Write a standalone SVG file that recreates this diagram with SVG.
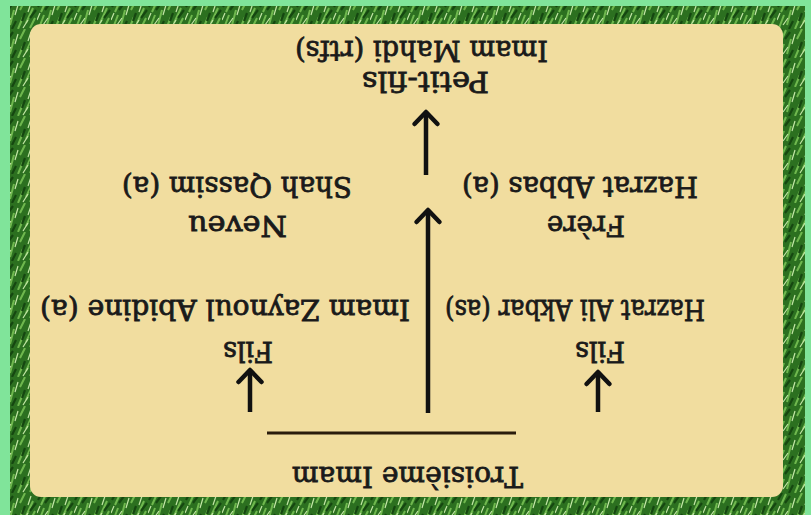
<svg xmlns="http://www.w3.org/2000/svg" width="811" height="515" viewBox="0 0 811 515">
  <style>
    .t { font-family: "DejaVu Serif", "Liberation Serif", serif; font-weight: normal; font-size: 27px; fill: #1a1a1a; stroke: #1a1a1a; stroke-width: 0.8; }
    .arrow { stroke: #111; stroke-width: 4.5; fill: none; marker-end: url(#head); }
    .rule { stroke: #2a1c0c; stroke-width: 3; fill: none; }
  </style>
  <defs>
    <pattern id="grass" patternUnits="userSpaceOnUse" width="37" height="29">
      <rect width="37" height="29" fill="#2c7020"/>
      <path d="M2,28 L7,15 M10,25 L14,10 M18,29 L23,17 M26,23 L33,8 M4,12 L9,1 M20,10 L25,0 M30,28 L35,18" stroke="#6fb84e" stroke-width="2" fill="none"/>
      <path d="M6,25 L11,18 M15,15 L18,5 M23,28 L28,20 M0,20 L3,13 M28,12 L31,3" stroke="#c3e6a6" stroke-width="1.2" fill="none"/>
      <path d="M12,29 L16,21 M1,7 L5,0 M22,21 L25,13 M30,18 L36,10 M8,10 L13,3" stroke="#154710" stroke-width="2.2" fill="none"/>
    </pattern>
    <marker id="head" markerUnits="userSpaceOnUse" viewBox="0 0 20 26" refX="17" refY="13" markerWidth="20" markerHeight="26" orient="auto" overflow="visible">
      <path d="M5,1.5 L17,13 L5,24.5" stroke="#111" stroke-width="4.5" fill="none" stroke-linecap="round" stroke-linejoin="round"/>
    </marker>
  </defs>

  <rect x="0" y="0" width="811" height="515" fill="#80e49a"/>
  <rect x="10" y="6" width="795" height="509" fill="url(#grass)"/>
  <rect x="30" y="24" width="753" height="473" rx="11" fill="#f1dd9f"/>

  <g id="connectors">
    <line class="arrow" x1="426" y1="175" x2="426" y2="112"/>
    <line class="arrow" x1="428" y1="413" x2="428" y2="210"/>
    <line class="arrow" x1="250" y1="412" x2="250" y2="370"/>
    <line class="arrow" x1="598" y1="412" x2="598" y2="372"/>
    <line class="rule" x1="267" y1="433" x2="516" y2="433"/>
  </g>

  <g id="node-troisieme-imam">
    <text class="t" x="407.5" y="467" text-anchor="middle" textLength="231" lengthAdjust="spacingAndGlyphs" transform="rotate(180 407.5 467)">Troisième Imam</text>
  </g>
  <g id="node-imam-zaynoul">
    <text class="t" x="248" y="342" text-anchor="middle" textLength="50" lengthAdjust="spacingAndGlyphs" transform="rotate(180 248 342)">Fils</text>
    <text class="t" x="225" y="300" text-anchor="middle" textLength="370" lengthAdjust="spacingAndGlyphs" transform="rotate(180 225 300)">Imam Zaynoul Abidine (a)</text>
  </g>
  <g id="node-ali-akbar">
    <text class="t" x="600" y="342" text-anchor="middle" textLength="50" lengthAdjust="spacingAndGlyphs" transform="rotate(180 600 342)">Fils</text>
    <text class="t" x="575" y="300" text-anchor="middle" textLength="260" lengthAdjust="spacingAndGlyphs" transform="rotate(180 575 300)">Hazrat Ali Akbar (as)</text>
  </g>
  <g id="node-shah-qassim">
    <text class="t" x="237.5" y="216" text-anchor="middle" textLength="99" lengthAdjust="spacingAndGlyphs" transform="rotate(180 237.5 216)">Neveu</text>
    <text class="t" x="237" y="177" text-anchor="middle" textLength="230" lengthAdjust="spacingAndGlyphs" transform="rotate(180 237 177)">Shah Qassim (a)</text>
  </g>
  <g id="node-abbas">
    <text class="t" x="586" y="216" text-anchor="middle" textLength="78" lengthAdjust="spacingAndGlyphs" transform="rotate(180 586 216)">Frère</text>
    <text class="t" x="580" y="177" text-anchor="middle" textLength="236" lengthAdjust="spacingAndGlyphs" transform="rotate(180 580 177)">Hazrat Abbas (a)</text>
  </g>
  <g id="node-mahdi">
    <text class="t" x="425.5" y="72" text-anchor="middle" textLength="127" lengthAdjust="spacingAndGlyphs" transform="rotate(180 425.5 72)">Petit-fils</text>
    <text class="t" x="421.5" y="41" text-anchor="middle" textLength="253" lengthAdjust="spacingAndGlyphs" transform="rotate(180 421.5 41)">Imam Mahdi (rtfs)</text>
  </g>
</svg>
